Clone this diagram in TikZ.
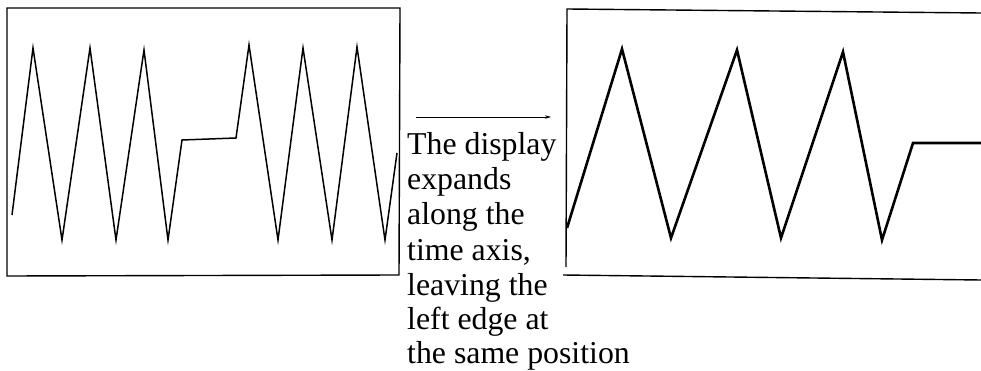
\documentclass[tikz,border=0pt]{standalone}
\usepackage{fontspec}
\setmainfont{Liberation Serif}
\usetikzlibrary{arrows.meta}
\tikzset{
  boxline/.style={line width=1.4pt, line join=miter},
  wavethin/.style={line width=1.5pt, line join=miter},
  wavethick/.style={line width=2.6pt, line join=miter},
  caption/.style={anchor=base west, inner sep=0pt, font=\fontsize{31.8}{35}\selectfont},
  thinarrow/.style={line width=0.8pt, -{Stealth[length=6pt,width=3.5pt]}}
}
\begin{document}
\begin{tikzpicture}[x=1pt,y=-1pt]
\useasboundingbox (0,0) rectangle (981,371);
% left display
\draw[boxline] (7,8) -- (400,8) -- (399,275) -- (7,276) -- cycle;
\draw[wavethin] (12,215) -- (33,48) -- (62,240) -- (90,48) -- (116,240) -- (144,50) -- (168,240)
  -- (182,140) -- (236,138) -- (249,45) -- (278,240) -- (303,48) -- (332,240) -- (357,47)
  -- (385,240) -- (397,153);
% arrow
\coordinate (a1) at (416,117);
\coordinate (a2) at (551,117);
\draw[thinarrow] (a1) -- (a2);
% caption
\node[caption] (t1) at (407,155) {The display};
\node[caption] (t2) at (407,190) {expands};
\node[caption] (t3) at (407,225) {along the};
\node[caption] (t4) at (407,260) {time axis,};
\node[caption] (t5) at (407,295) {leaving the};
\node[caption] (t6) at (407,329.5) {left edge at};
\node[caption] (t7) at (407,363.5) {the same position};
% right display
\draw[boxline] (981,13) -- (567,9) -- (566,267);
\draw[boxline] (563,275) -- (981,280);
\draw[wavethick] (567,228) -- (622,49) -- (671,238) -- (737,50) -- (781,238) -- (843,52)
  -- (882,240) -- (913,143) -- (981,143);
\end{tikzpicture}
\end{document}
